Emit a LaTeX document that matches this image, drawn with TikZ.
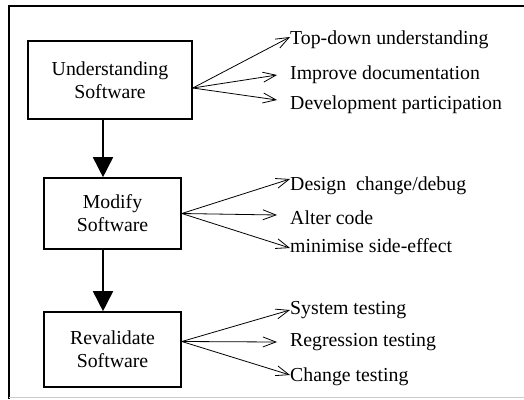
\documentclass[tikz,border=0pt]{standalone}
\usepackage{fontspec}
\setmainfont{Liberation Serif}
\usetikzlibrary{arrows.meta}
\tikzstyle{StageNode}=[rectangle, draw=black, line width=1.6pt, align=center, inner sep=0pt, font=\fontsize{19.8}{23}\selectfont]
\tikzstyle{ItemNode}=[anchor=west, inner sep=0pt, font=\fontsize{19.8}{23}\selectfont]
\tikzstyle{FanEdge}=[-{Straight Barb[length=13pt,width=10pt]}, line width=0.8pt]
\tikzstyle{FlowEdge}=[-{Triangle[length=20pt,width=20pt]}, line width=1.6pt]
\tikzstyle{FrameLine}=[line width=1.6pt]

\begin{document}
\begin{tikzpicture}[x=1pt,y=-1pt]
\useasboundingbox (0,0) rectangle (524,399);
% frame
\draw[FrameLine] (524,6) -- (9,6) -- (9,399);
\draw[gray!40, line width=1pt] (9,397.5) -- (524,397.5);

% stages
\node[StageNode, minimum width=164pt, minimum height=78pt] (UndSw) at (110,80) {Understanding\\Software};
\node[StageNode, minimum width=137pt, minimum height=71pt] (ModSw) at (112.5,213.5) {Modify\\Software};
\node[StageNode, minimum width=137pt, minimum height=75pt] (RevSw) at (112.5,349.5) {Revalidate\\Software};

\draw[FlowEdge] ([xshift=-7pt]UndSw.south) -- ([xshift=-9.5pt]ModSw.north);
\draw[FlowEdge] ([xshift=-9.5pt]ModSw.south) -- ([xshift=-9.5pt]RevSw.north);

% activities
\node[ItemNode] (TopDown) at (290,40) {Top-down understanding};
\node[ItemNode] (ImpDoc) at (290,75) {Improve documentation};
\node[ItemNode] (DevPart) at (290,105) {Development participation};
\node[ItemNode] (DesChg) at (290,186) {Design\ \ change/debug};
\node[ItemNode] (AltCode) at (290,218) {Alter code};
\node[ItemNode] (MinSide) at (290,246) {minimise side-effect};
\node[ItemNode] (SysTest) at (290,310) {System testing};
\node[ItemNode] (RegTest) at (290,342) {Regression testing};
\begin{scope}
\clip (0,0) rectangle (524,386.5);
\node[ItemNode] (ChgTest) at (290,377) {Change testing};
\end{scope}

\draw[FanEdge] ([yshift=-8pt]UndSw.east) -- ([yshift=3pt]TopDown.west);
\draw[FanEdge] ([yshift=-8pt]UndSw.east) -- ([xshift=-13pt]ImpDoc.west);
\draw[FanEdge] ([yshift=-8pt]UndSw.east) -- ([xshift=-13pt,yshift=5pt]DevPart.west);

\draw[FanEdge] (ModSw.east) -- ([yshift=7pt]DesChg.west);
\draw[FanEdge] (ModSw.east) -- ([xshift=-13pt,yshift=3pt]AltCode.west);
\draw[FanEdge] (ModSw.east) -- ([yshift=-2pt]MinSide.west);

\draw[FanEdge] ([yshift=8pt]RevSw.east) -- (SysTest.west);
\draw[FanEdge] ([yshift=8pt]RevSw.east) -- ([xshift=-13pt]RegTest.west);
\draw[FanEdge] ([yshift=8pt]RevSw.east) -- ([yshift=2pt]ChgTest.west);
\end{tikzpicture}
\end{document}
